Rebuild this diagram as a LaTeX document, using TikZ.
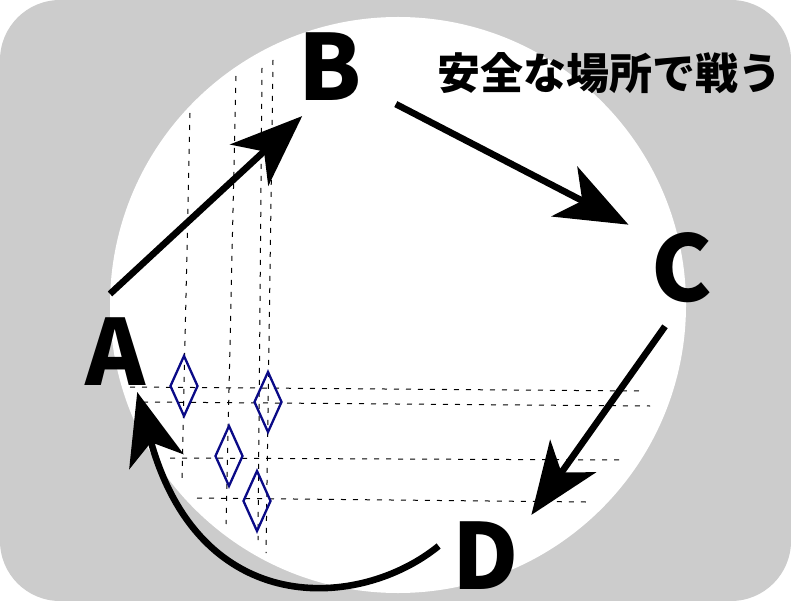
\documentclass[tikz,border=0pt]{standalone}
\usepackage{fontspec}
\setmainfont{Noto Sans CJK JP}
\usepackage{tikz}
\usetikzlibrary{arrows.meta,shapes.geometric}
\definecolor{FondoGris}{RGB}{204,204,204}
\definecolor{AzulMarino}{RGB}{10,10,135}

\begin{document}
\begin{tikzpicture}[x=1pt, y=-1pt,
    letra/.style={font=\fontsize{91}{91}\selectfont\bfseries, inner sep=0pt},
    flecha/.style={line width=6.6pt,
        -{Stealth[length=72pt, width=56pt, inset=20pt]}},
    guia/.style={line width=1pt, dash pattern=on 5pt off 7pt},
    casilla/.style={diamond, draw=AzulMarino, line width=2.3pt,
        minimum width=28pt, minimum height=61pt, inner sep=0pt}]
    \useasboundingbox (0,0) rectangle (791,601);
    \fill[FondoGris, rounded corners=60pt] (0,0) rectangle (791,601);
    \fill[white] (398,305) circle (288pt);

    % guias
    \draw[guia] (190,113) -- (182,478);
    \draw[guia] (236,76) -- (226,524);
    \draw[guia] (262,68) -- (258,540);
    \draw[guia] (273,60) -- (266,553);
    \draw[guia] (130,387) -- (640,391);
    \draw[guia] (143,402) -- (650,406);
    \draw[guia] (170,458) -- (623,460);
    \draw[guia] (197,498) -- (586,502);

    \node[casilla] (c1) at (184,386) {};
    \node[casilla] (c2) at (268,402) {};
    \node[casilla] (c3) at (229,456) {};
    \node[casilla] (c4) at (257,501) {};

    \node[letra] (A) at (116,352) {A};
    \node[letra] (B) at (330,67) {B};
    \node[letra] (C) at (682,268) {C};
    \node[letra] (D) at (486,556) {D};
    \node[font=\fontsize{43}{43}\selectfont\bfseries, inner sep=0pt] (lema)
        at (609,73) {安全な場所で戦う};

    \draw[flecha] ([shift={(-6,-24)}]A.north) -- ([shift={(4,15)}]B.south west);
    \draw[flecha] ([shift={(34,3)}]B.south east) -- ([shift={(-23,-8)}]C.north west);
    \draw[flecha] ([shift={(-17,23)}]C.south) -- ([shift={(12,-7)}]D.north east);
    \draw[flecha] ([shift={(-14,-10)}]D.west)
        .. controls (360,610) and (200,620) .. ([shift={(-9,6)}]A.south east);
\end{tikzpicture}
\end{document}
